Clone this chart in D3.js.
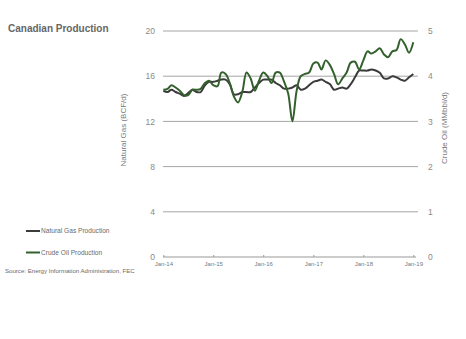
<!DOCTYPE html>
<html>
<head>
<meta charset="utf-8">
<script src="https://cdn.jsdelivr.net/npm/d3@7"></script>
<style>
  body { margin: 0; background: #fff; }
  svg { display: block; font-family: "Liberation Sans", Arial, sans-serif; }
</style>
</head>
<body>
<svg id="chart" width="466" height="339"></svg>
<script>
// ---- Data (monthly, Jan-2014 .. Jan-2019) ----
const startMonth = "2014-01";
const gasBcfd = [14.7,14.6,14.8,14.6,14.45,14.25,14.5,14.8,14.6,14.6,
  15.2,15.5,15.5,15.6,15.7,15.7,15.3,14.4,14.4,14.6,
  14.6,14.6,15.0,15.4,15.7,15.7,15.7,15.4,15.2,14.9,
  14.9,15.0,15.2,14.8,14.9,15.2,15.5,15.6,15.7,15.5,
  15.3,14.8,14.9,15.0,14.9,15.3,15.9,16.5,16.5,16.5,
  16.6,16.5,16.3,15.8,15.8,16.0,15.9,15.7,15.6,15.9,16.2];
const oilMmbbld = [3.70,3.72,3.80,3.75,3.68,3.58,3.58,3.70,3.70,3.72,
  3.85,3.90,3.80,3.78,4.08,4.05,3.85,3.55,3.42,3.65,
  4.08,3.95,3.68,3.90,4.08,4.00,3.85,4.08,4.08,3.88,
  3.62,3.00,3.68,4.00,4.05,4.08,4.28,4.30,4.15,4.35,
  4.25,4.05,3.82,3.95,4.08,4.30,4.32,4.15,4.35,4.55,
  4.50,4.55,4.62,4.48,4.42,4.55,4.58,4.82,4.70,4.52,4.75];
const gasTicks = [0,4,8,12,16,20];
const oilTicks = [0,1,2,3,4,5];
const xTickLabels = ["Jan-14","Jan-15","Jan-16","Jan-17","Jan-18","Jan-19"];
const seriesNames = ["Natural Gas Production","Crude Oil Production"];
const seriesColors = ["#3b3b3b","#33602c"];

const svg = d3.select("#chart");
const parseM = d3.timeParse("%Y-%m");
const t0 = parseM(startMonth);
const dates = gasBcfd.map((_, i) => d3.timeMonth.offset(t0, i));

const x = d3.scaleTime()
  .domain([parseM("2014-01"), parseM("2019-01")])
  .range([163.3, 413.3]);
const yL = d3.scaleLinear().domain([0,20]).range([257, 31]);
const yR = d3.scaleLinear().domain([0,5]).range([257, 31]);

// Title
svg.append("text").attr("x", 8).attr("y", 32)
  .attr("font-size", 10).attr("font-weight", "bold").attr("fill", "#666")
  .text("Canadian Production");

// Gridlines
svg.append("g").selectAll("line").data(gasTicks.filter(d => d > 0)).join("line")
  .attr("x1", 163).attr("x2", 418)
  .attr("y1", d => yL(d)).attr("y2", d => yL(d))
  .attr("stroke", "#a6a6a6").attr("stroke-width", 1);

// X axis line with ticks
const xAxis = d3.axisBottom(x)
  .tickValues(xTickLabels.map(s => d3.timeParse("%b-%y")(s)))
  .tickFormat((d, i) => xTickLabels[i])
  .tickSize(-2).tickPadding(6);
const gx = svg.append("g").attr("transform", "translate(0,257)").call(xAxis);
gx.select(".domain").attr("d", "M163,0H416").attr("stroke", "#999");
gx.selectAll(".tick line").attr("stroke", "#999");
gx.selectAll(".tick text").attr("font-size", 6).attr("fill", "#777")
  .attr("font-family", "Liberation Sans, Arial, sans-serif").attr("dy", "0.5em");

// Left axis labels
const gl = svg.append("g").attr("transform", "translate(163,0)")
  .call(d3.axisLeft(yL).tickValues(gasTicks).tickFormat(d3.format("d")).tickSize(0).tickPadding(8));
gl.select(".domain").remove();
gl.selectAll("text").attr("font-size", 8.5).attr("fill", "#8a8a8a")
  .attr("font-family", "Liberation Sans, Arial, sans-serif");

// Right axis labels
const gr = svg.append("g").attr("transform", "translate(418,0)")
  .call(d3.axisRight(yR).tickValues(oilTicks).tickFormat(d3.format("d")).tickSize(0).tickPadding(10));
gr.select(".domain").remove();
gr.selectAll("text").attr("font-size", 8.5).attr("fill", "#8a8a8a")
  .attr("font-family", "Liberation Sans, Arial, sans-serif");

// Axis titles
svg.append("text").attr("transform", "translate(126,130) rotate(-90)")
  .attr("text-anchor", "middle").attr("font-size", 8).attr("fill", "#7a7a7a")
  .text("Natural Gas (BCF/d)");
svg.append("text").attr("transform", "translate(447,128) rotate(-90)")
  .attr("text-anchor", "middle").attr("font-size", 8).attr("fill", "#7a7a7a")
  .text("Crude Oil (MMbbl/d)");

// Lines
const curve = d3.curveCatmullRom.alpha(0.5);
const gasLine = d3.line().x((d, i) => x(dates[i])).y(d => yL(d)).curve(curve);
const oilLine = d3.line().x((d, i) => x(dates[i])).y(d => yR(d)).curve(curve);
svg.append("path").attr("d", gasLine(gasBcfd)).attr("fill", "none")
  .attr("stroke", seriesColors[0]).attr("stroke-width", 2);
svg.append("path").attr("d", oilLine(oilMmbbld)).attr("fill", "none")
  .attr("stroke", seriesColors[1]).attr("stroke-width", 2);

// Legend
const legY = [231, 252.5];
seriesNames.forEach((name, i) => {
  svg.append("line").attr("x1", 26).attr("x2", 40)
    .attr("y1", legY[i]).attr("y2", legY[i])
    .attr("stroke", seriesColors[i]).attr("stroke-width", 2);
  svg.append("text").attr("x", 41).attr("y", legY[i] + 2.2)
    .attr("font-size", 6.6).attr("fill", "#6a6a6a").text(name);
});

// Source
svg.append("text").attr("x", 5).attr("y", 272.5)
  .attr("font-size", 6.1).attr("fill", "#6a6a6a")
  .text("Source: Energy Information Administration, FEC");
</script>
</body>
</html>
